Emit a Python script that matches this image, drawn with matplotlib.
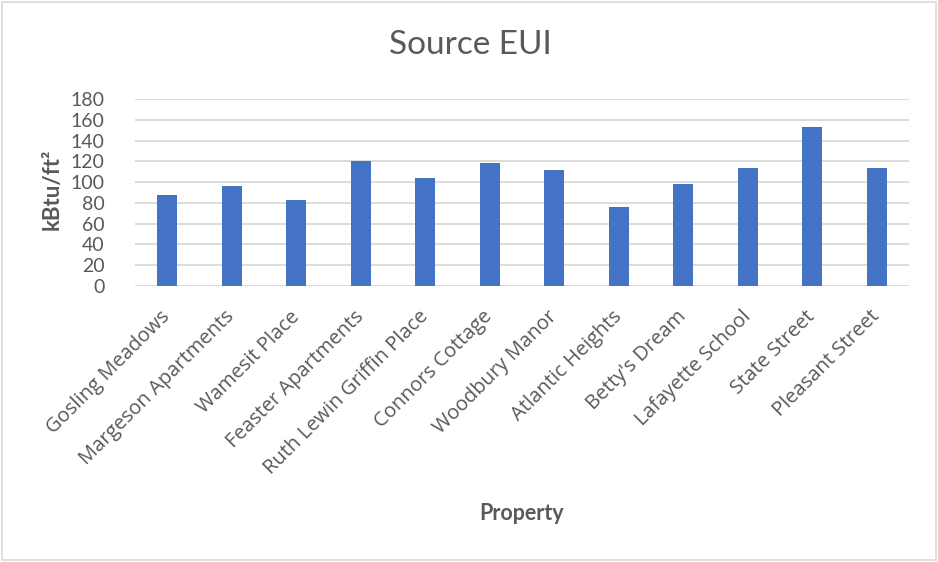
import matplotlib
matplotlib.use("Agg")
import matplotlib.pyplot as plt
from matplotlib.patches import Rectangle

categories = ["Gosling Meadows", "Margeson Apartments", "Wamesit Place", "Feaster Apartments",
              "Ruth Lewin Griffin Place", "Connors Cottage", "Woodbury Manor", "Atlantic Heights",
              "Betty's Dream", "Lafayette School", "State Street", "Pleasant Street"]
values = [88, 96, 83, 120.5, 103.5, 118, 112, 76, 98, 113.5, 153, 113.5]
yticks = [0, 20, 40, 60, 80, 100, 120, 140, 160, 180]

GRAY = "#595959"
fig = plt.figure(figsize=(9.38, 5.62), dpi=100)
ax = fig.add_axes([135/938, 1-286/562, (909-135)/938, (286-99)/562])

x = list(range(len(categories)))
ax.bar(x, values, width=0.31, color="#4472C4", zorder=3)
ax.set_xlim(-0.5, len(categories)-0.5)
ax.set_ylim(0, 180)
ax.set_yticks(yticks)
ax.set_yticklabels([str(v) for v in yticks], fontsize=14, color=GRAY, family="Lato")
ax.yaxis.grid(True, color="#d9d9d9", linewidth=1.3, zorder=0)
ax.tick_params(axis="both", length=0)
ax.tick_params(axis="y", pad=22)
for s in ax.spines.values():
    s.set_visible(False)

ax.set_xticks(x)
ax.set_xticklabels(categories, rotation=45, ha="right", va="center", rotation_mode="anchor",
                   fontsize=14.5, color=GRAY, family="Open Sans")
ax.tick_params(axis="x", pad=20)

fig.text(470/938, 1-45/562, "Source EUI", ha="center", va="center", fontsize=24,
         color=GRAY, family="Lato")
fig.text(52/938, 1-189/562, "kBtu/ft²", ha="center", va="center", rotation=90,
         fontsize=16, color=GRAY, family="Lato", fontweight="bold")
fig.text(522/938, 1-513/562, "Property", ha="center", va="center",
         fontsize=15.5, color=GRAY, family="Lato", fontweight="bold")

fig.patches.append(Rectangle((2/938, 2/562), 934/938, 558/562, transform=fig.transFigure,
                             fill=False, edgecolor="#d9d9d9", linewidth=1.2))
fig.savefig("out.png", dpi=100)
